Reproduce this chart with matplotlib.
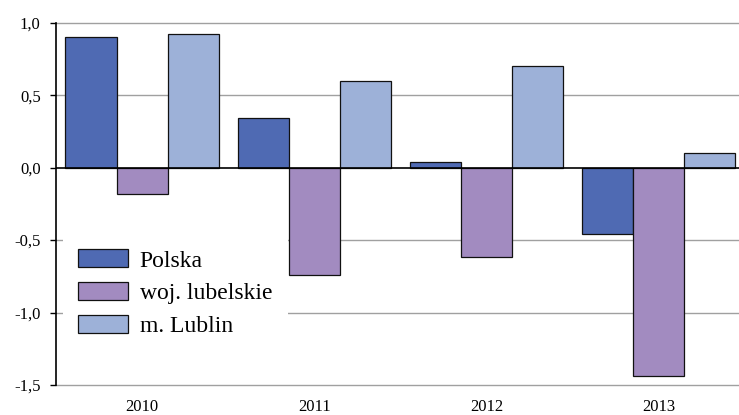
import matplotlib
matplotlib.use("Agg")
import matplotlib.pyplot as plt
import numpy as np

years = ["2010", "2011", "2012", "2013"]
series_names = ["Polska", "woj. lubelskie", "m. Lublin"]
polska = [0.90, 0.34, 0.04, -0.46]
lubelskie = [-0.18, -0.74, -0.62, -1.44]
lublin = [0.92, 0.60, 0.70, 0.10]
yticks = [1.0, 0.5, 0.0, -0.5, -1.0, -1.5]
ytick_labels = ["1,0", "0,5", "0,0", "-0,5", "-1,0", "-1,5"]

colors = ["#4F6AB3", "#A28BC0", "#9DB1D8"]

plt.rcParams['font.family'] = ['Liberation Serif', 'DejaVu Serif']

W, H = 739, 415
fig = plt.figure(figsize=(W / 100, H / 100), dpi=100)
ax = fig.add_axes([56 / W, 1 - 385 / H, 1 - 56 / W, (385 - 22.7) / H])

x = np.arange(len(years))
w = 0.297
for i, (vals, name) in enumerate(zip([polska, lubelskie, lublin], series_names)):
    ax.bar(x + (i - 1) * w, vals, width=w, color=colors[i], edgecolor="#111111",
           linewidth=0.9, label=name, zorder=3)

ax.set_ylim(-1.5, 1.0)
ax.set_xlim(-0.5, (W - 142.5) / 172)
ax.set_yticks(yticks)
ax.set_yticklabels(ytick_labels)
ax.set_xticks(x)
ax.set_xticklabels(years)

for y in yticks:
    if y != 0:
        ax.axhline(y, color="#A0A0A0", linewidth=1.0, zorder=1, clip_on=False)
ax.axhline(0, color="black", linewidth=1.2, zorder=4)

for s in ["top", "right", "bottom"]:
    ax.spines[s].set_visible(False)
ax.spines["left"].set_linewidth(1.2)
ax.spines["left"].set_zorder(5)

ax.tick_params(axis="y", length=4, width=1.0, labelsize=12, pad=7)
ax.tick_params(axis="x", length=0, labelsize=12, pad=10)

leg = ax.legend(loc="upper left", bbox_to_anchor=(63 / W, 1 - 234 / H),
                bbox_transform=fig.transFigure, fontsize=17, frameon=True,
                fancybox=False, edgecolor="none", facecolor="white", framealpha=1,
                handlelength=2.1, handleheight=0.8, handletextpad=0.5,
                labelspacing=0.45, borderpad=0.65, borderaxespad=0)
leg.set_zorder(2.5)

fig.savefig("out.png", dpi=100)
